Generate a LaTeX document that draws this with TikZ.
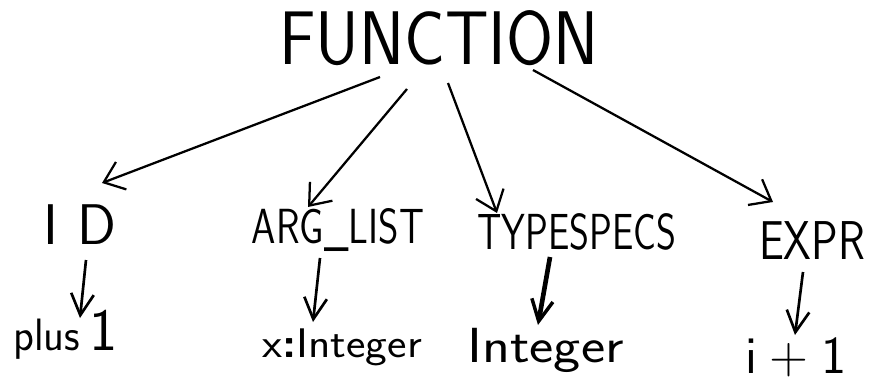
\documentclass[tikz,border=0pt]{standalone}
\usetikzlibrary{arrows.meta}
\begin{document}
\begin{tikzpicture}[x=0.75pt,y=-0.75pt,
  lbl/.style={inner sep=0pt,font=\sffamily},
  arr/.style={line width=1.7pt,-{Straight Barb[length=14pt,width=22pt,line width=1.7pt]}},
  varr/.style={line width=2pt,-{Straight Barb[length=16pt,width=17pt,line width=2pt]}},
  varrb/.style={line width=3.5pt,-{Straight Barb[length=16pt,width=16pt,line width=2.6pt]}}]
\useasboundingbox (0,0) rectangle (875,382);
% top
\node[lbl] (fn) at (439,38) {\fontsize{57}{57}\selectfont\scalebox{0.895}[1]{FUNCTION}};
% middle
\node[lbl] (id) at (80,225) {\fontsize{43}{43}\selectfont I\,\,D};
\node[lbl] (arg) at (338,230) {\fontsize{37}{37}\selectfont\scalebox{0.79}[1]{ARG\_LIST}};
\node[lbl] (typ) at (577,232) {\fontsize{38}{38}\selectfont\scalebox{0.75}[1]{TYPESPECS}};
\node[lbl] (expr) at (812,241) {\fontsize{41}{41}\selectfont\scalebox{0.81}[1]{EXPR}};
% bottom
\node[lbl,anchor=base west] (plus) at (13,350) {\fontsize{34}{34}\selectfont\scalebox{0.95}[1]{plus}\hspace{7pt}\fontsize{45}{45}\selectfont 1};
\node[lbl,anchor=base west] (xint) at (262,357) {\fontsize{31}{31}\selectfont\scalebox{1.12}[1]{x\textbf{:}Integer}};
\node[lbl,anchor=base west] (int) at (467,362) {\fontsize{37}{37}\selectfont\scalebox{1.17}[1]{Integer}};
\node[lbl,anchor=base west] (ipl) at (745,373) {\fontsize{40}{40}\selectfont i\hspace{9pt}+\hspace{10pt}1};
% connector ends
\coordinate (s1) at (380,77);
\coordinate (e1) at (102,183);
\coordinate (s2) at (407,89);
\coordinate (e2) at (308,207);
\coordinate (s3) at (448,83);
\coordinate (e3) at (497,213);
\coordinate (s4) at (533,70);
\coordinate (e4) at (773,202);
\draw[arr] (s1) -- (e1);
\draw[arr] (s2) -- (e2);
\draw[arr] (s3) -- (e3);
\draw[arr] (s4) -- (e4);
\coordinate (a1) at (86,260);
\coordinate (b1) at (80,318);
\coordinate (a2) at (320,258);
\coordinate (b2) at (313,322);
\coordinate (a3) at (550,257);
\coordinate (b3) at (538,325);
\coordinate (a4) at (803,272);
\coordinate (b4) at (795,335);
\draw[varr] (a1) -- (b1);
\draw[varr] (a2) -- (b2);
\draw[varrb] (a3) -- (b3);
\draw[varr] (a4) -- (b4);
\end{tikzpicture}
\end{document}
